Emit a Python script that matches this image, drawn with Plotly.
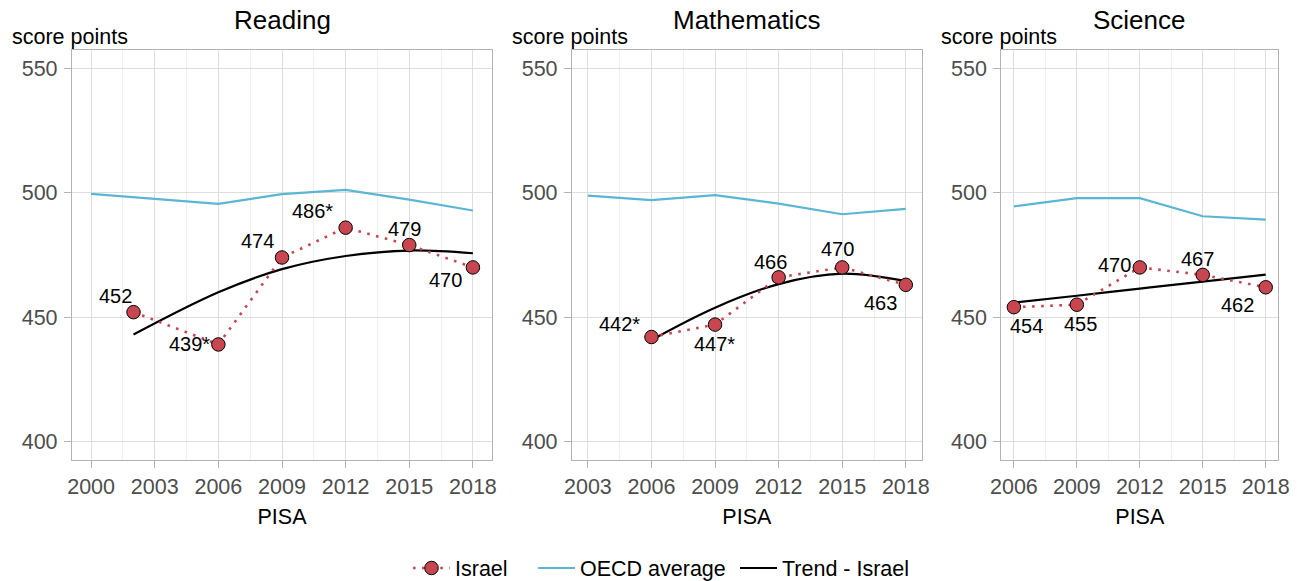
import plotly.graph_objects as go

# ---------------- data ----------------
subjects = ["Reading", "Mathematics", "Science"]

reading_years = [2002, 2006, 2009, 2012, 2015, 2018]
reading_israel = [452, 439, 474, 486, 479, 470]
reading_labels = ["452", "439*", "474", "486*", "479", "470"]
reading_oecd_years = [2000, 2003, 2006, 2009, 2012, 2015, 2018]
reading_oecd = [499.6, 497.6, 495.6, 499.5, 501.2, 497.3, 492.9]
reading_trend = [443.0, 460.0, 469.3, 474.6, 476.8, 475.7]
reading_xticks = [2000, 2003, 2006, 2009, 2012, 2015, 2018]

math_years = [2006, 2009, 2012, 2015, 2018]
math_israel = [442, 447, 466, 470, 463]
math_labels = ["442*", "447*", "466", "470", "463"]
math_oecd_years = [2003, 2006, 2009, 2012, 2015, 2018]
math_oecd = [498.9, 497.1, 499.1, 495.7, 491.4, 493.6]
math_trend = [440.8, 453.8, 463.3, 467.5, 464.5]
math_xticks = [2003, 2006, 2009, 2012, 2015, 2018]

science_years = [2006, 2009, 2012, 2015, 2018]
science_israel = [454, 455, 470, 467, 462]
science_labels = ["454", "455", "470", "467", "462"]
science_oecd_years = [2006, 2009, 2012, 2015, 2018]
science_oecd = [494.6, 497.9, 497.9, 490.6, 489.2]
science_trend = [455.8, 458.6, 461.5, 464.3, 467.1]
science_xticks = [2006, 2009, 2012, 2015, 2018]

y_ticks = [400, 450, 500, 550]

# ---------------- styling / layout (positions, not data) ----------------
W, H = 1301, 581
FONT = "Arial, Liberation Sans, sans-serif"
RED = "#C8464F"
BLUE = "#5BB5D5"
GRID = "#DEDEDE"
MINOR = "#EFEFEF"
FRAME = "#B3B3B3"
TICKC = "#4D4D4D"


def px_x(x):
    return x / W


def px_y(y):
    return 1 - y / H


# pixel extents of each panel
panel_px = [(72, 492), (572, 921.7), (1001.3, 1278.3)]
x_ranges = [(1999.1, 2018.9), (2002.25, 2018.75), (2005.4, 2018.6)]
y_range = (392.5, 557.5)
y_dom = (px_y(460), px_y(50))

# label offsets in pixels (dx, dy) ; dy positive = up
label_offsets = [
    [(-18, 16), (-29, 0), (-25, 16), (-33, 17), (-5, 16), (-27, -13)],
    [(-32, 13), (-1, -19), (-8, 15), (-5, 18), (-25, -18)],
    [(13, -19), (4, -19), (-25, 2), (-5, 16), (-28, -18)],
]

panels = [
    (reading_years, reading_israel, reading_labels, reading_oecd_years, reading_oecd, reading_trend, reading_xticks),
    (math_years, math_israel, math_labels, math_oecd_years, math_oecd, math_trend, math_xticks),
    (science_years, science_israel, science_labels, science_oecd_years, science_oecd, science_trend, science_xticks),
]

fig = go.Figure()
annotations = []
layout_axes = {}

for i, (yrs, isr, labs, oyrs, oecd, trend, xt) in enumerate(panels):
    sfx = "" if i == 0 else str(i + 1)
    xa, ya = "x" + sfx, "y" + sfx
    first = i == 0

    fig.add_trace(go.Scatter(
        x=oyrs, y=oecd, xaxis=xa, yaxis=ya, mode="lines",
        line=dict(color=BLUE, width=2.2), name="OECD average",
        legendgroup="oecd", showlegend=first, legendrank=2, legendwidth=150))
    fig.add_trace(go.Scatter(
        x=yrs, y=trend, xaxis=xa, yaxis=ya, mode="lines",
        line=dict(color="black", width=2.2, shape="spline", smoothing=1.0),
        name="Trend - Israel", legendgroup="trend", showlegend=first, legendrank=3,
        legendwidth=132))
    fig.add_trace(go.Scatter(
        x=yrs, y=isr, xaxis=xa, yaxis=ya, mode="lines+markers",
        line=dict(color=RED, width=2.6, dash="2.6px,6.5px"),
        marker=dict(size=13.5, color=RED, line=dict(color="black", width=1)),
        name="Israel", legendgroup="isr", showlegend=first, legendrank=1,
        legendwidth=73))

    for xv, yv, t, (dx, dy) in zip(yrs, isr, labs, label_offsets[i]):
        annotations.append(dict(
            x=xv, y=yv, xref=xa, yref=ya, text=t, showarrow=False,
            xshift=dx, yshift=dy, font=dict(family=FONT, size=20, color="black")))

    x0, x1 = panel_px[i]
    dom = [px_x(x0), px_x(x1)]
    layout_axes["xaxis" + sfx] = dict(
        domain=dom, range=list(x_ranges[i]), anchor=ya, automargin=False,
        tickmode="array", tickvals=xt, ticktext=[str(v) for v in xt],
        showgrid=True, gridcolor=GRID, gridwidth=1,
        minor=dict(showgrid=True, gridcolor=MINOR, gridwidth=1, tickmode="array",
                   tickvals=[v + 1.5 for v in xt[:-1]]),
        showline=True, linecolor=FRAME, linewidth=1.3, mirror=True,
        ticks="outside", ticklen=7, tickcolor=FRAME, tickwidth=1.3,
        tickfont=dict(family=FONT, size=21.5, color=TICKC),
        zeroline=False, fixedrange=True,
        title=dict(text="PISA", font=dict(family=FONT, size=21.5, color="black"), standoff=10),
    )
    layout_axes["yaxis" + sfx] = dict(
        domain=list(y_dom), range=list(y_range), anchor=xa, automargin=False,
        tickmode="array", tickvals=y_ticks,
        showgrid=True, gridcolor=GRID, gridwidth=1,
        showline=True, linecolor=FRAME, linewidth=1.3, mirror=True,
        ticks="outside", ticklen=7, tickcolor=FRAME, tickwidth=1.3,
        ticklabelstandoff=2,
        tickfont=dict(family=FONT, size=21.5, color=TICKC),
        zeroline=False, fixedrange=True,
    )
    # panel title
    annotations.append(dict(
        x=px_x((x0 + x1) / 2), y=px_y(20), xref="paper", yref="paper",
        text=subjects[i], showarrow=False, xanchor="center", yanchor="middle",
        font=dict(family=FONT, size=26, color="black")))
    # unit label
    annotations.append(dict(
        x=px_x(x0 - 62), y=px_y(37), xref="paper", yref="paper",
        text="score points", showarrow=False, xanchor="left", yanchor="middle",
        font=dict(family=FONT, size=21.5, color="black")))

fig.update_layout(
    width=W, height=H,
    margin=dict(l=0, r=0, t=0, b=0, autoexpand=False),
    paper_bgcolor="white", plot_bgcolor="white",
    font=dict(family=FONT, size=21.5, color="black"),
    showlegend=True, hovermode=False,
    legend=dict(orientation="h", x=px_x(408), xanchor="left", y=px_y(568), yanchor="middle",
                font=dict(family=FONT, size=21.5, color="black"),
                itemwidth=37, traceorder="normal", bgcolor="rgba(0,0,0,0)"),
    annotations=annotations,
    **layout_axes,
)

# remove the default 8px page margin so the figure sits at the window's top-left
fig.write_html("out.html", config={"displayModeBar": False},
               post_script="document.body.style.margin='0px';")
